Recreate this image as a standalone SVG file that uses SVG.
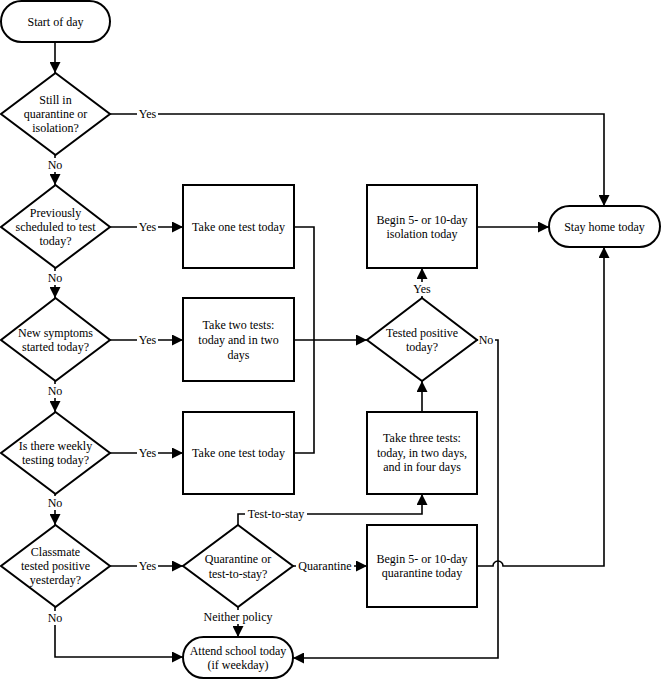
<svg xmlns="http://www.w3.org/2000/svg" width="661" height="680" viewBox="0 0 661 680">
  <style>
    .shape { fill: #fff; stroke: #000; stroke-width: 2; }
    .conn { fill: none; stroke: #000; stroke-width: 1.6; }
    .lblbg { fill: #fff; stroke: none; }
  </style>
  <defs>
    <marker id="arrow" markerUnits="userSpaceOnUse" markerWidth="11" markerHeight="11" refX="11" refY="5.5" orient="auto">
      <path d="M0,0 L11,5.5 L0,11 z" fill="#000"/>
    </marker>
  </defs>
  <rect width="661" height="680" fill="#fff"/>

  <!-- connectors -->
  <g id="connectors">
    <path class="conn" d="M55,42 V73" marker-end="url(#arrow)"/>
    <path class="conn" d="M109,114 H604 V206" marker-end="url(#arrow)"/>
    <path class="conn" d="M55,155 V185" marker-end="url(#arrow)"/>
    <path class="conn" d="M109,227 H183" marker-end="url(#arrow)"/>
    <path class="conn" d="M55,268 V298" marker-end="url(#arrow)"/>
    <path class="conn" d="M109,340 H183" marker-end="url(#arrow)"/>
    <path class="conn" d="M55,381 V412" marker-end="url(#arrow)"/>
    <path class="conn" d="M109,453 H183" marker-end="url(#arrow)"/>
    <path class="conn" d="M55,494 V525" marker-end="url(#arrow)"/>
    <path class="conn" d="M109,566 H183" marker-end="url(#arrow)"/>
    <path class="conn" d="M55,607 V657 H183" marker-end="url(#arrow)"/>
    <path class="conn" d="M294,227 H314 V340"/>
    <path class="conn" d="M294,453 H314 V340"/>
    <path class="conn" d="M294,340 H367" marker-end="url(#arrow)"/>
    <path class="conn" d="M422,298 V268" marker-end="url(#arrow)"/>
    <path class="conn" d="M477,340 H498 V658 H293" marker-end="url(#arrow)"/>
    <path class="conn" d="M422,412 V381" marker-end="url(#arrow)"/>
    <path class="conn" d="M238,525 V514 H422 V494" marker-end="url(#arrow)"/>
    <path class="conn" d="M293,566 H367" marker-end="url(#arrow)"/>
    <path class="conn" d="M238,607 V637" marker-end="url(#arrow)"/>
    <path class="conn" d="M477,566 H493 A5,5 0 0 1 503,566 H604 V247" marker-end="url(#arrow)"/>
    <path class="conn" d="M477,227 H549" marker-end="url(#arrow)"/>

    <!-- connector labels on white patches -->
    <rect class="lblbg" x="137" y="107" width="21" height="14"/>
    <rect class="lblbg" x="137" y="220" width="21" height="14"/>
    <rect class="lblbg" x="137" y="333" width="21" height="14"/>
    <rect class="lblbg" x="137" y="446" width="21" height="14"/>
    <rect class="lblbg" x="137" y="559" width="21" height="14"/>
    <rect class="lblbg" x="45" y="158" width="20" height="14"/>
    <rect class="lblbg" x="45" y="271" width="20" height="14"/>
    <rect class="lblbg" x="45" y="384" width="20" height="14"/>
    <rect class="lblbg" x="45" y="496" width="20" height="14"/>
    <rect class="lblbg" x="45" y="611" width="20" height="14"/>
    <rect class="lblbg" x="411" y="282" width="22" height="14"/>
    <rect class="lblbg" x="478" y="333" width="17" height="14"/>
    <rect class="lblbg" x="245" y="507" width="62" height="14"/>
    <rect class="lblbg" x="296" y="559" width="58" height="14"/>
    <rect class="lblbg" x="201" y="610" width="74" height="14"/>
    <g text-anchor="middle" dominant-baseline="central" font-family="Liberation Serif" font-size="12">
      <text x="147.5" y="114">Yes</text>
      <text x="147.5" y="227">Yes</text>
      <text x="147.5" y="340">Yes</text>
      <text x="147.5" y="453">Yes</text>
      <text x="147.5" y="566">Yes</text>
      <text x="55" y="165">No</text>
      <text x="55" y="278">No</text>
      <text x="55" y="391">No</text>
      <text x="55" y="503">No</text>
      <text x="55" y="618">No</text>
      <text x="422" y="289">Yes</text>
      <text x="486" y="340">No</text>
      <text x="276" y="514">Test-to-stay</text>
      <text x="325" y="566">Quarantine</text>
      <text x="238" y="617">Neither policy</text>
    </g>
  </g>

  <!-- nodes -->
  <g text-anchor="middle" dominant-baseline="central" font-family="Liberation Serif" font-size="12">
    <g id="start">
      <rect class="shape" x="1" y="1" width="109" height="41" rx="20.5"/>
      <text x="55.5" y="22">Start of day</text>
    </g>
    <g id="q-quarantine">
      <polygon class="shape" points="55.5,73 110,114 55.5,155 1,114"/>
      <text x="55.5" y="100">Still in</text>
      <text x="55.5" y="114">quarantine or</text>
      <text x="55.5" y="128">isolation?</text>
    </g>
    <g id="q-scheduled">
      <polygon class="shape" points="55.5,185 110,227 55.5,268 1,227"/>
      <text x="55.5" y="213">Previously</text>
      <text x="55.5" y="227">scheduled to test</text>
      <text x="55.5" y="241">today?</text>
    </g>
    <g id="q-symptoms">
      <polygon class="shape" points="55.5,298 110,340 55.5,381 1,340"/>
      <text x="55.5" y="333">New symptoms</text>
      <text x="55.5" y="347">started today?</text>
    </g>
    <g id="q-weekly">
      <polygon class="shape" points="55.5,412 110,453 55.5,494 1,453"/>
      <text x="55.5" y="446">Is there weekly</text>
      <text x="55.5" y="460">testing today?</text>
    </g>
    <g id="q-classmate">
      <polygon class="shape" points="55.5,525 110,566 55.5,607 1,566"/>
      <text x="55.5" y="552">Classmate</text>
      <text x="55.5" y="566">tested positive</text>
      <text x="55.5" y="580">yesterday?</text>
    </g>
    <g id="test-one-a">
      <rect class="shape" x="183" y="185" width="111" height="83"/>
      <text x="238.5" y="227">Take one test today</text>
    </g>
    <g id="test-two">
      <rect class="shape" x="183" y="298" width="111" height="83"/>
      <text x="238.5" y="325">Take two tests:</text>
      <text x="238.5" y="340">today and in two</text>
      <text x="238.5" y="355">days</text>
    </g>
    <g id="test-one-b">
      <rect class="shape" x="183" y="412" width="111" height="82"/>
      <text x="238.5" y="453">Take one test today</text>
    </g>
    <g id="q-policy">
      <polygon class="shape" points="238,525 293,566 238,607 183,566"/>
      <text x="238" y="559">Quarantine or</text>
      <text x="238" y="574">test-to-stay?</text>
    </g>
    <g id="attend">
      <rect class="shape" x="183" y="637" width="110" height="41" rx="20.5"/>
      <text x="238" y="651">Attend school today</text>
      <text x="238" y="665">(if weekday)</text>
    </g>
    <g id="isolation">
      <rect class="shape" x="367" y="185" width="110" height="83"/>
      <text x="422" y="220">Begin 5- or 10-day</text>
      <text x="422" y="234">isolation today</text>
    </g>
    <g id="q-positive">
      <polygon class="shape" points="422,298 477,340 422,381 367,340"/>
      <text x="422" y="333">Tested positive</text>
      <text x="422" y="347">today?</text>
    </g>
    <g id="test-three">
      <rect class="shape" x="367" y="412" width="110" height="82"/>
      <text x="422" y="438">Take three tests:</text>
      <text x="422" y="453">today, in two days,</text>
      <text x="422" y="467">and in four days</text>
    </g>
    <g id="quarantine">
      <rect class="shape" x="367" y="525" width="110" height="82"/>
      <text x="422" y="559">Begin 5- or 10-day</text>
      <text x="422" y="573">quarantine today</text>
    </g>
    <g id="stay-home">
      <rect class="shape" x="549" y="206" width="111" height="41" rx="20.5"/>
      <text x="604.5" y="227">Stay home today</text>
    </g>
  </g>
</svg>
